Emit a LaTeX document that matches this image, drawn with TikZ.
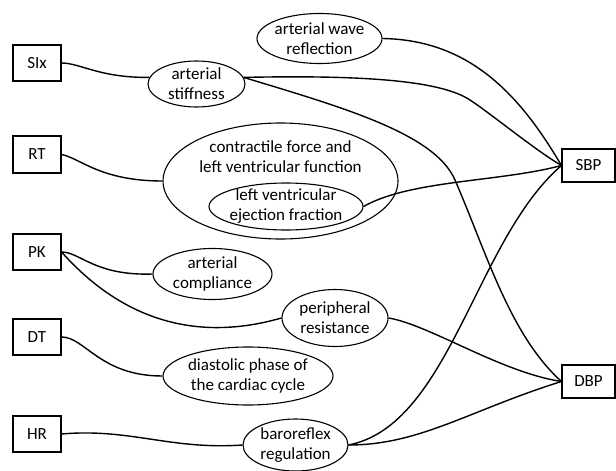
\documentclass[tikz,border=0pt]{standalone}
\usepackage{fontspec}
\setmainfont{Carlito}
\usetikzlibrary{shapes.geometric}
\begin{document}
\begin{tikzpicture}[x=1pt,y=-1pt,
  every node/.style={font=\fontsize{17}{20}\selectfont, align=center, inner sep=0pt},
  box/.style={draw, line width=1.1pt, minimum width=48pt, minimum height=36pt},
  ell/.style={draw, ellipse, line width=1.1pt},
  conn/.style={line width=1.4pt}]
\fill[white] (0,0) rectangle (616,471);
\useasboundingbox (0,0) rectangle (616,471);

% left boxes
\node[box] (six) at (37,63) {SIx};
\node[box, minimum height=37pt] (rt) at (37,154.5) {RT};
\node[box] (pk) at (37,252) {PK};
\node[box] (dt) at (37,337) {DT};
\node[box] (hr) at (37,434) {HR};
% right boxes
\node[box, minimum width=53pt, minimum height=33pt] (sbp) at (588.5,165.5) {SBP};
\node[box, minimum width=53pt, minimum height=33pt] (dbp) at (588.5,381.5) {DBP};

% ellipses
\node[ell, minimum width=97pt, minimum height=46pt, label={center:arterial\\stiffness}] (stiff) at (196.5,84) {};
\node[ell, minimum width=125pt, minimum height=50pt, label={center:arterial wave\\reflection}] (wave) at (319.5,38.5) {};
\node[ell, minimum width=235pt, minimum height=116pt] (contr) at (280.5,181) {};
\node (contrtxt) at (280.5,157) {contractile force and\\left ventricular function};
\node[ell, minimum width=154pt, minimum height=47pt, label={center:left ventricular\\ejection fraction}] (lvef) at (286,206.5) {};
\node[ell, minimum width=119pt, minimum height=51pt, label={center:arterial\\compliance}] (compl) at (212.5,274) {};
\node[ell, minimum width=106pt, minimum height=57pt, label={center:peripheral\\resistance}] (periph) at (335,318) {};
\node[ell, minimum width=170pt, minimum height=58pt, label={center:diastolic phase of\\the cardiac cycle}] (diast) at (248,376) {};
\node[ell, minimum width=105pt, minimum height=52pt, label={center:baroreflex\\regulation}] (baro) at (295.5,445) {};

\coordinate (k1) at (470,100);
\coordinate (k2) at (455,180);

% left connectors
\draw[conn] (six.east) .. controls (80,63) and (100,78) .. (stiff.172);
\draw[conn] (rt.east) .. controls (80,158) and (100,181) .. (contr.west);
\draw[conn] (pk.east) .. controls (80,252) and (95,276) .. (compl.west);
\draw[conn] (pk.east) .. controls (100,295) and (170,350) .. (periph.west);
\draw[conn] (dt.east) .. controls (85,337) and (100,376) .. (diast.west);
\draw[conn] (hr.east) .. controls (130,428) and (170,450) .. (baro.west);

% right connectors
\draw[conn] (wave.east) .. controls (470,40) and (520,95) .. (sbp.west);
\draw[conn] (stiff.8) .. controls (360,75) and (440,80) .. (k1)
            .. controls (490,113) and (535,150) .. (sbp.west);
\draw[conn] (stiff.8) .. controls (345,108) and (435,134) .. (k2)
            .. controls (487,254) and (510,335) .. (dbp.west);
\draw[conn] (lvef.east) .. controls (410,180) and (500,182) .. (sbp.west);
\draw[conn] (periph.east) .. controls (430,325) and (500,372) .. (dbp.west);
\draw[conn] (baro.east) .. controls (450,425) and (475,240) .. (sbp.west);
\draw[conn] (baro.east) .. controls (420,445) and (470,410) .. (dbp.west);
\end{tikzpicture}
\end{document}
